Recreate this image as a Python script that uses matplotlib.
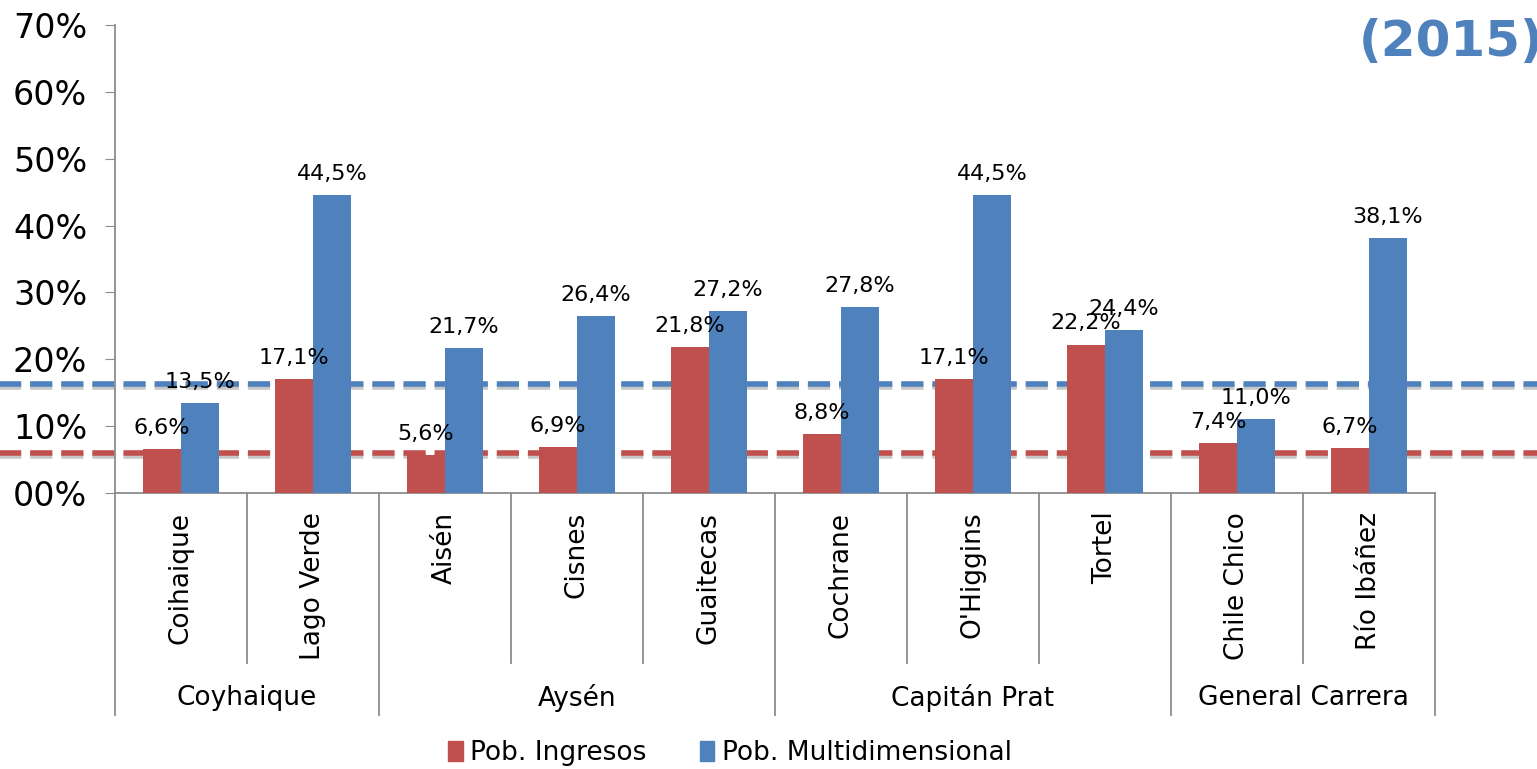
# Pobreza por ingresos y multidimensional, comunas de Aysén (2015)

import numpy as np
import matplotlib.pyplot as plt
import matplotlib.patheffects as pe
from matplotlib.patches import Patch


# Data ........................................................................
comunas = ["Coihaique", "Lago Verde", "Aisén", "Cisnes", "Guaitecas",
           "Cochrane", "O'Higgins", "Tortel", "Chile Chico", "Río Ibáñez"]
provincias = ["Coyhaique", "Aysén", "Capitán Prat", "General Carrera"]
comunas_por_provincia = [2, 3, 3, 2]
pob_ingresos = [6.6, 17.1, 5.6, 6.9, 21.8, 8.8, 17.1, 22.2, 7.4, 6.7]
pob_multi = [13.5, 44.5, 21.7, 26.4, 27.2, 27.8, 44.5, 24.4, 11.0, 38.1]
promedio_multi = 16.3
promedio_ingresos = 6.0
ytick_labels = ["00%", "10%", "20%", "30%", "40%", "50%", "60%", "70%"]

red = "#C0504D"
blue = "#4F81BD"
grey = "#8C8C8C"

# Plot ........................................................................
fig = plt.figure(figsize=(15.37, 7.69), dpi=100)
ax = fig.add_axes([0.0748, 0.359, 0.8588, 0.6085])

x = np.arange(len(comunas))
w = 0.288
ax.bar(x - w / 2, pob_ingresos, w, color=red, zorder=3)
ax.bar(x + w / 2, pob_multi, w, color=blue, zorder=3)

for xi, v in zip(x, pob_ingresos):
    ax.annotate(f"{v:.1f}%".replace(".", ","), (xi - w / 2, v), xytext=(0, 8),
                textcoords="offset points", ha="center", va="bottom",
                fontsize=16, zorder=5)
for xi, v in zip(x, pob_multi):
    ax.annotate(f"{v:.1f}%".replace(".", ","), (xi + w / 2, v), xytext=(0, 8),
                textcoords="offset points", ha="center", va="bottom",
                fontsize=16, zorder=5)

# Dashed reference lines across the whole figure
trans = ax.get_yaxis_transform()
shadow = [pe.SimpleLineShadow(offset=(1.5, -2.5), alpha=0.22, shadow_color="black"),
          pe.Normal()]
for val, col in [(promedio_multi, blue), (promedio_ingresos, red)]:
    ln, = ax.plot([-0.09, 1.08], [val, val], transform=trans, color=col,
                  lw=4, clip_on=False, zorder=2, path_effects=shadow)
    ln.set_dashes([4.0, 1.6])

ax.set_xlim(-0.5, len(comunas) - 0.5)
ax.set_ylim(0, 70)
ax.set_yticks(np.arange(0, 71, 10))
ax.set_yticklabels(ytick_labels, fontsize=24)
ax.tick_params(axis="y", length=7, color=grey, pad=13)
ax.set_xticks([])
for s in ["top", "right"]:
    ax.spines[s].set_visible(False)
ax.spines["left"].set_color(grey)
ax.spines["bottom"].set_color(grey)
ax.spines["left"].set_linewidth(1.3)
ax.spines["bottom"].set_linewidth(1.3)

# Two-level category axis
xt = ax.get_xaxis_transform()
for xi, name in zip(x, comunas):
    ax.text(xi, -0.04, name, transform=xt, rotation=90, ha="center",
            va="top", fontsize=19)

bounds = np.cumsum([0] + comunas_por_provincia)
group_edges = set(bounds)
for b in range(len(comunas) + 1):
    bottom = -0.474 if b in group_edges else -0.363
    ax.plot([b - 0.5, b - 0.5], [0, bottom], transform=xt, color=grey,
            lw=1.3, clip_on=False)
for i, prov in enumerate(provincias):
    centre = (bounds[i] + bounds[i + 1]) / 2 - 0.5
    ax.text(centre, -0.438, prov, transform=xt, ha="center", va="center",
            fontsize=19)

fig.text(1.004, 0.946, "(2015)", ha="right", va="center", fontsize=36,
         fontweight="bold", color=blue)

handles = [Patch(color=red, label="Pob. Ingresos"),
           Patch(color=blue, label="Pob. Multidimensional")]
fig.legend(handles=handles, loc="center", bbox_to_anchor=(0.475, 0.021),
           ncol=2, frameon=False, fontsize=19, handlelength=0.55,
           handleheight=0.8, handletextpad=0.3, columnspacing=2.0)

fig.savefig("out.png", dpi=100)
